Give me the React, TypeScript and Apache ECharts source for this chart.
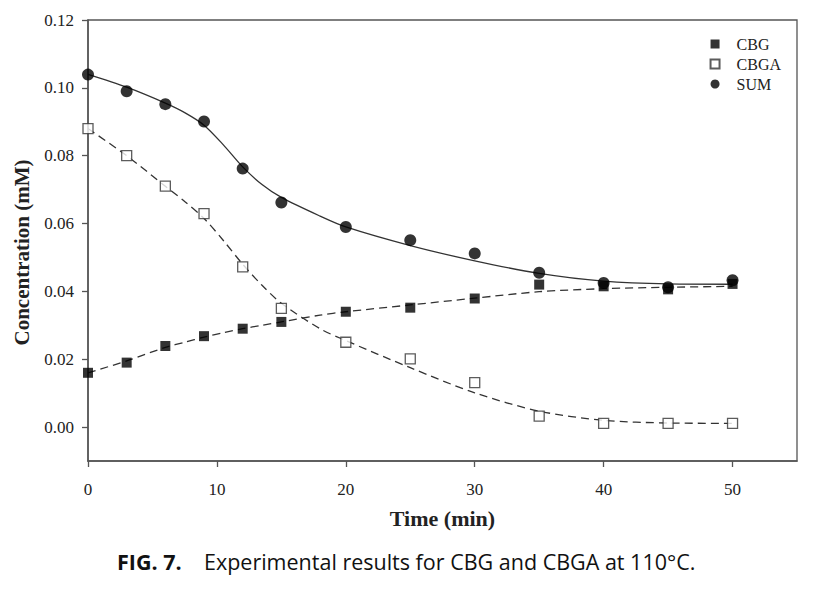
import React, { useEffect, useRef } from "react";
import * as echarts from "echarts";

const times = [0, 3, 6, 9, 12, 15, 20, 25, 30, 35, 40, 45, 50];
const cbg = [0.016, 0.019, 0.0239, 0.0268, 0.029, 0.031, 0.034, 0.0352, 0.0379, 0.042, 0.0415, 0.0406, 0.0422];
const cbga = [0.088, 0.08, 0.071, 0.0629, 0.0472, 0.035, 0.025, 0.0201, 0.0131, 0.0032, 0.0011, 0.0011, 0.0011];
const sum = [0.1039, 0.099, 0.0952, 0.0901, 0.0762, 0.0662, 0.059, 0.0551, 0.0512, 0.0455, 0.0425, 0.0412, 0.0433];

const fitTimes = [0, 3, 6, 7.5, 9, 10.5, 12, 13.5, 15, 18, 20, 25, 30, 35, 40, 45, 50];
const fitCbg = [0.016, 0.0195, 0.0235, 0.025, 0.0265, 0.0278, 0.029, 0.03, 0.031, 0.033, 0.034, 0.036, 0.038, 0.0399, 0.0408, 0.0412, 0.0415];
const fitCbga = [0.088, 0.08, 0.071, 0.0665, 0.0615, 0.055, 0.048, 0.0418, 0.0365, 0.029, 0.0255, 0.0175, 0.0101, 0.0047, 0.002, 0.0012, 0.0011];
const fitSum = [0.104, 0.1002, 0.0955, 0.0927, 0.089, 0.0832, 0.0767, 0.0715, 0.0677, 0.0622, 0.059, 0.0535, 0.049, 0.0453, 0.043, 0.0422, 0.0421];

const xTicks = [0, 10, 20, 30, 40, 50];
const yTicks = [0, 0.02, 0.04, 0.06, 0.08, 0.1, 0.12];

const caption = "Experimental results for CBG and CBGA at 110\u00B0C.";

const zip = (xs: number[], ys: number[]) => xs.map((x, i) => [x, ys[i]]);

export default function App() {
  const ref = useRef<HTMLDivElement>(null);
  useEffect(() => {
    document.body.style.margin = "0";
    if (!ref.current) return;
    const chart = echarts.init(ref.current, null, { renderer: "svg" });
    const serif = "Liberation Serif";
    const ink = "#222";
    const lineColor = "#333";
    chart.setOption({
      animation: false,
      backgroundColor: "#fff",
      grid: { left: 88, right: 19, top: 20, bottom: 137, show: true, borderColor: "#555", borderWidth: 1.3 },
      legend: {
        orient: "vertical",
        right: 30,
        top: 31,
        itemWidth: 9,
        itemHeight: 9,
        itemGap: 4,
        textStyle: { fontFamily: serif, fontSize: 16, lineHeight: 16, color: ink, padding: [0, 0, 0, 12] },
        data: [
          { name: "CBG", icon: "rect" },
          { name: "CBGA", icon: "rect" },
          { name: "SUM", icon: "circle" },
        ],
      },
      xAxis: {
        type: "value",
        min: 0,
        max: 55,
        name: "Time (min)",
        nameLocation: "middle",
        nameGap: 46,
        nameTextStyle: { fontFamily: serif, fontSize: 22, fontWeight: "bold", color: ink },
        axisLine: { show: true, onZero: false, lineStyle: { color: "#555", width: 1.5 } },
        axisTick: { show: true, length: 6, customValues: xTicks, lineStyle: { color: "#555", width: 1.3 } },
        axisLabel: { customValues: xTicks, margin: 20, fontFamily: serif, fontSize: 17, color: ink },
        splitLine: { show: false },
      },
      yAxis: {
        type: "value",
        min: -0.01,
        max: 0.12,
        name: "Concentration (mM)",
        nameLocation: "middle",
        nameGap: 56,
        nameTextStyle: { fontFamily: serif, fontSize: 21, fontWeight: "bold", color: ink, padding: [0, 24, 0, 0] },
        axisLine: { show: true, onZero: false, lineStyle: { color: "#555", width: 1.5 } },
        axisTick: { show: true, length: 6, customValues: yTicks, lineStyle: { color: "#555", width: 1.3 } },
        axisLabel: {
          customValues: yTicks,
          margin: 14,
          fontFamily: serif,
          fontSize: 17,
          color: ink,
          formatter: (v: number) => v.toFixed(2),
        },
        splitLine: { show: false },
      },
      series: [
        {
          name: "fitCBG",
          type: "line",
          data: zip(fitTimes, fitCbg),
          smooth: 0.3,
          symbol: "none",
          lineStyle: { color: lineColor, width: 1.3, type: [8, 5] },
          z: 2,
        },
        {
          name: "fitCBGA",
          type: "line",
          data: zip(fitTimes, fitCbga),
          smooth: 0.3,
          symbol: "none",
          lineStyle: { color: lineColor, width: 1.3, type: [8, 5] },
          z: 2,
        },
        {
          name: "fitSUM",
          type: "line",
          data: zip(fitTimes, fitSum),
          smooth: 0.3,
          symbol: "none",
          lineStyle: { color: lineColor, width: 1.3 },
          z: 2,
        },
        {
          name: "CBG",
          type: "scatter",
          data: zip(times, cbg),
          symbol: "rect",
          symbolSize: 10,
          itemStyle: { color: "#000" },
          z: 5,
        },
        {
          name: "CBGA",
          type: "scatter",
          data: zip(times, cbga),
          symbol: "rect",
          symbolSize: 10,
          itemStyle: { color: "#fff", borderColor: "#333", borderWidth: 1.3 },
          z: 5,
        },
        {
          name: "SUM",
          type: "scatter",
          data: zip(times, sum),
          symbol: "circle",
          symbolSize: 12,
          itemStyle: { color: "#000" },
          z: 5,
        },
      ],
      graphic: [
        {
          type: "text",
          left: 117,
          top: 550,
          style: {
            rich: {
              b: { fontFamily: "Open Sans", fontWeight: "bold", fontSize: 21.5, fill: "#111" },
              n: { fontFamily: "Open Sans", fontSize: 21.5, fill: "#111" },
            },
            text: "{b|FIG. 7.}{n|    " + caption + "}",
          },
        },
      ],
    });
    return () => chart.dispose();
  }, []);
  return <div ref={ref} style={{ width: 816, height: 598 }} />;
}
